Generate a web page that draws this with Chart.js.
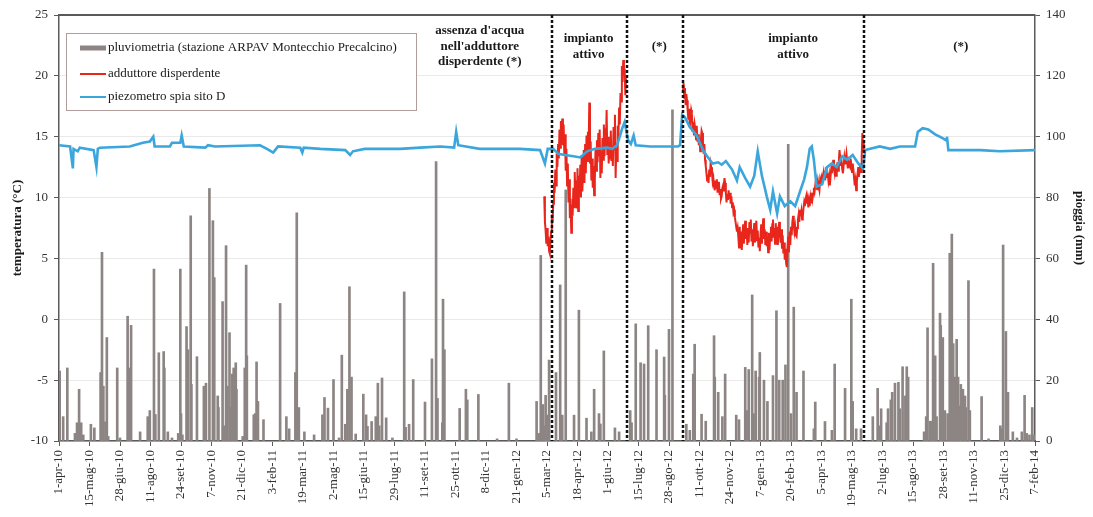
<!DOCTYPE html>
<html>
<head>
<meta charset="utf-8">
<script src="https://cdn.jsdelivr.net/npm/chart.js@4.4.1/dist/chart.umd.min.js"></script>
<style>
  html, body { margin: 0; padding: 0; background: #fff; }
  #wrap { width: 1093px; height: 517px; }
</style>
</head>
<body>
<div id="wrap"><canvas id="c" width="1093" height="517"></canvas></div>
<script>
// x axis: days counted from 1 April 2010, one label every 44 days
const tickLabels = ['1-apr-10','15-mag-10','28-giu-10','11-ago-10','24-set-10','7-nov-10','21-dic-10',
  '3-feb-11','19-mar-11','2-mag-11','15-giu-11','29-lug-11','11-set-11','25-ott-11','8-dic-11',
  '21-gen-12','5-mar-12','18-apr-12','1-giu-12','15-lug-12','28-ago-12','11-ott-12','24-nov-12',
  '7-gen-13','20-feb-13','5-apr-13','19-mag-13','2-lug-13','15-ago-13','28-set-13','11-nov-13',
  '25-dic-13','7-feb-14'];
const tickStep = 44;

// daily rain (mm), ARPAV Montecchio Precalcino
const rainDay = [1,6,12,23,26,29,32,35,46,51,60,62,64,67,69,71,84,88,99,101,104,117,128,131,137,139,144,151,152,157,163,172,175,176,178,184,186,190,191,199,209,212,217,222,224,229,230,236,238,241,243,246,248,250,252,255,256,265,268,270,271,281,283,285,287,295,319,328,332,341,343,346,354,368,380,383,388,396,404,408,413,416,419,422,428,439,443,445,451,457,460,462,466,472,481,498,500,505,511,528,538,544,546,553,554,556,578,587,589,605,632,649,660,689,692,695,698,700,702,704,707,717,723,726,731,743,750,761,768,772,779,781,786,802,808,824,826,832,839,844,850,862,873,874,880,885,905,910,915,917,927,933,945,946,951,957,961,977,981,990,992,995,1000,1002,1005,1010,1011,1017,1022,1030,1035,1039,1044,1048,1052,1056,1060,1064,1074,1089,1091,1105,1115,1119,1134,1143,1145,1150,1157,1174,1181,1183,1186,1194,1196,1200,1202,1206,1211,1213,1217,1221,1223,1225,1248,1251,1253,1257,1259,1261,1264,1266,1271,1272,1275,1278,1282,1285,1288,1290,1293,1295,1297,1300,1301,1304,1307,1308,1312,1314,1331,1341,1358,1360,1362,1366,1369,1376,1382,1389,1393,1396,1400,1404,1406];
const rainMm = [23,8,24,2.5,6,17,6,2,5.5,4.3,22.5,62,18,6.3,34,1.5,24,1,41,24,38,3,8,10,56.5,8.7,29,29.4,24,3,1,2.5,56.5,9,2,37.6,30,74,18.6,27.7,18,19,83,72.4,53.7,14.8,11,45.8,5,64.2,18,35.6,11,22,24,25.7,17,1.5,24,57.8,28,8.6,9,26,13,7,45.2,8,4,22.5,75,11,3,2,8.6,14.3,10.8,20.2,1,28.2,5.5,17,50.7,21,2.3,15.4,8.6,4.8,6.4,8,19,5,20.7,7.6,1,49,4.5,5.5,20.2,12.8,27,91.8,14,6,46.6,30,10.7,17,13.5,15.3,0.7,19,0.7,13,2.5,61,12,5,15,8.5,26.6,22.5,51.3,8.5,82.5,8.5,43,7.5,3,17,9,5.6,29.6,4.3,3,10,6,38.5,25.7,25.3,37.9,30,27.6,15,36.7,108.8,5.5,3.5,22,31.8,8.8,6.5,34.6,21,16,8,22,8.5,7,24.2,10,23.5,48,9,23,21,29.1,20,13,21.5,42.8,20,20,25,97.5,9,44,16,23,4,12.8,6.4,3.5,25.3,17.3,46.6,13,4,4,8,17.3,5,10.6,6,10.6,13.5,16,19,19.3,10.6,24.4,14.8,24.4,21,3,8,37.2,6.5,6.5,58.4,28,8,42,38,34,10,9,61.7,68,32,21,33.4,21,11.5,18.6,17,14.8,11,52.7,10,14.6,0.7,5,4,64.4,36,16,3,1,3,15,2.5,2,11,2];

// piezometro spia sito D (°C)
const piezoDay = [0,16,20,21,27,30,50,54,56,59,102,121,131,136,138,160,163,175,177,180,211,215,225,290,300,309,316,348,351,353,377,413,420,424,441,492,521,550,570,573,576,607,665,694,701,705,713,720,730,742,752,762,773,791,798,805,809,812,816,821,825,829,832,853,893,896,899,903,910,920,929,935,943,951,956,962,971,978,982,990,997,1003,1008,1014,1021,1026,1030,1036,1040,1047,1055,1062,1069,1075,1079,1083,1086,1089,1093,1101,1108,1115,1122,1130,1137,1145,1153,1160,1163,1184,1199,1213,1235,1239,1246,1254,1264,1274,1280,1281,1283,1329,1357,1408];
const piezoTemp = [14.3,14.2,12.4,14.0,13.8,14.1,13.9,12.5,14.0,14.1,14.2,14.5,14.6,15.0,14.2,14.2,14.5,14.5,15.1,14.2,14.1,14.3,14.2,14.3,14.0,13.7,14.2,14.1,13.7,14.1,14.0,13.9,13.5,13.8,14.0,14.0,14.1,14.2,14.1,15.4,14.3,14.0,14.0,13.9,12.8,14.0,14.0,13.6,13.5,13.4,13.3,13.8,14.0,14.1,14.0,14.3,15.0,15.6,16.2,14.7,14.4,15.1,14.3,14.2,14.2,14.3,16.8,16.6,15.8,15.1,13.9,13.4,12.8,12.9,12.7,13.0,12.3,11.4,12.5,11.6,10.9,11.8,13.8,11.8,10.1,9.0,10.5,8.7,10.1,9.3,9.7,9.3,10.5,11.5,12.5,14.0,14.2,13.1,10.9,11.1,12.5,12.8,12.5,13.4,13.1,13.5,12.8,12.4,13.9,14.2,14.0,14.2,14.2,15.4,15.7,15.6,15.2,14.9,14.7,15.0,13.9,13.9,13.8,13.9];

// adduttore disperdente (°C), daily values for the two running periods
const adduttore1Start = 700;
const adduttore1 = [10.1,8.0,7.3,6.2,7.5,6.0,6.8,5.6,5.4,6.5,7.2,8.6,7.9,9.5,11.2,10.4,12.3,11.0,13.6,12.5,
  14.4,13.2,15.6,14.1,16.3,15.0,16.5,14.3,16.0,13.5,15.2,12.2,14.0,11.0,12.8,9.6,11.5,8.3,9.9,7.1,
  9.4,8.5,10.8,9.2,12.1,10.0,11.4,9.1,12.4,8.9,11.8,10.3,12.7,10.0,13.5,10.5,12.3,13.9,11.2,14.4,
  12.0,15.1,13.0,15.4,13.6,17.8,12.8,14.6,11.4,13.2,10.8,12.6,10.2,11.5,13.9,12.2,14.7,12.9,15.3,13.4,
  15.6,11.6,13.8,12.0,14.9,13.1,16.0,13.4,15.7,14.2,17.2,13.5,15.0,12.8,14.6,13.2,15.5,13.0,14.2,12.6,
  15.8,14.0,16.8,11.6,14.1,13.0,15.9,14.8,17.4,16.0,18.6,17.9,20.8,19.5,21.3,20.1,20.6,18.4,19.8];
const adduttore2Start = 900;
const adduttore2 = [18.6,19.4,18.2,19.0,17.6,18.5,18.0,17.1,16.4,17.3,
  15.8,16.6,17.2,16.9,15.4,16.2,15.1,16.0,15.6,14.8,
  15.9,14.6,15.2,14.3,14.9,13.8,14.7,15.5,15.3,14.2,
  13.6,14.4,13.1,12.6,12.0,11.4,11.9,11.2,12.3,11.7,
  12.8,12.5,12.0,11.3,11.6,10.9,10.6,11.4,10.8,11.5,
  10.4,10.9,11.3,10.2,10.7,9.9,10.1,10.8,11.0,10.5,
  11.6,11.2,10.4,9.6,10.3,9.8,10.6,9.9,10.4,9.5,
  10.1,9.2,9.6,8.8,9.0,8.4,8.0,7.6,7.2,7.5,
  6.8,5.9,7.6,6.0,7.2,5.7,6.9,7.8,6.2,7.6,
  8.1,6.6,7.4,6.1,7.5,6.3,8.0,7.1,8.2,6.4,
  7.4,6.0,7.1,7.9,6.3,7.6,8.1,6.5,7.3,5.9,
  6.7,5.6,6.9,7.8,6.2,7.5,8.3,6.6,7.4,6.1,
  7.2,6.0,6.8,5.5,7.1,5.7,6.9,7.6,6.4,7.8,
  8.2,6.7,7.5,6.2,7.9,6.4,7.6,6.1,7.4,8.0,
  7.1,6.3,7.4,5.8,6.9,5.4,6.3,4.9,5.8,4.6,
  4.3,5.9,6.8,5.5,7.2,6.1,7.6,6.9,8.0,8.5,
  7.8,7.2,7.6,6.9,6.8,7.5,8.2,8.6,8.0,9.0,
  8.5,8.9,8.2,8.4,9.1,9.6,9.3,9.8,10.1,9.5,
  9.9,9.2,9.7,9.3,10.0,9.6,10.4,9.9,10.3,10.8,
  10.5,11.0,10.7,11.2,10.6,11.3,10.9,10.6,11.4,11.1,
  11.6,11.3,11.8,12.1,11.5,12.2,11.9,12.5,11.7,12.0,
  11.4,11.8,11.0,11.7,12.3,12.0,12.6,13.1,12.4,12.0,
  12.5,11.8,12.4,12.9,12.2,13.0,13.9,13.2,12.6,12.9,
  12.3,12.0,12.7,13.3,12.8,13.1,13.6,13.0,12.4,12.9,
  12.6,12.5,13.2,12.7,12.1,12.8,12.3,11.6,11.0,11.4,
  10.6,11.3,11.9,12.5,11.7,12.3,12.8,12.1,13.4,15.3,
  13.8,14.5];

// phase boundaries (days) and the notes written between them
const phaseBounds = [711, 819, 900, 1162];
const phaseNoteDays = [607, 764, 866, 1059, 1301];
const phaseNoteTexts = [
  ["assenza d'acqua", "nell'adduttore", "disperdente (*)"],
  ["impianto", "attivo"],
  ["(*)"],
  ["impianto", "attivo"],
  ["(*)"]
];

const SERIF = '"Liberation Serif", "Times New Roman", serif';
const RAIN_COLOR = '#8c8583';
const RED = '#e8261c';
const BLUE = '#3aa6dc';

const rainData = rainDay.map((d, i) => ({ x: d, y: rainMm[i] }));
const piezoData = piezoDay.map((d, i) => ({ x: d, y: piezoTemp[i] }));
const adduttoreData = adduttore1.map((v, i) => ({ x: adduttore1Start + i, y: v }))
  .concat([{ x: adduttore1Start + adduttore1.length, y: null }])
  .concat(adduttore2.map((v, i) => ({ x: adduttore2Start + i, y: v })));

const overlay = {
  id: 'overlay',
  afterDatasetsDraw(chart) {
    const { ctx, chartArea: a, scales: { x } } = chart;
    ctx.save();
    // frame top edge
    ctx.strokeStyle = '#5a5a5a';
    ctx.lineWidth = 2;
    ctx.beginPath(); ctx.moveTo(a.left, a.top); ctx.lineTo(a.right, a.top); ctx.stroke();

    // dashed separators between phases
    ctx.strokeStyle = '#111';
    ctx.lineWidth = 2.5;
    ctx.setLineDash([3, 2]);
    phaseBounds.forEach(d => {
      const px = Math.round(x.getPixelForValue(d));
      ctx.beginPath(); ctx.moveTo(px, a.top); ctx.lineTo(px, a.bottom); ctx.stroke();
    });
    ctx.setLineDash([]);

    // phase notes
    ctx.font = 'bold 13px ' + SERIF;
    ctx.fillStyle = '#1a1a1a';
    ctx.textAlign = 'center';
    ctx.textBaseline = 'middle';
    const mid = a.top + 31.5, lh = 15.5;
    phaseNoteDays.forEach((d, i) => {
      const lines = phaseNoteTexts[i];
      const px = x.getPixelForValue(d);
      const y0 = mid - (lines.length - 1) * lh / 2;
      lines.forEach((t, k) => ctx.fillText(t, px, y0 + k * lh));
    });

    // legend box
    const lx = a.left + 7, ly = a.top + 18, lw = 350, lhgt = 77;
    ctx.fillStyle = '#fff';
    ctx.fillRect(lx, ly, lw, lhgt);
    ctx.strokeStyle = '#b09c9c';
    ctx.lineWidth = 1;
    ctx.strokeRect(lx + 0.5, ly + 0.5, lw, lhgt);
    const rows = [ly + 15, ly + 41, ly + 64];
    const sx0 = lx + 14, sx1 = lx + 40;
    ctx.font = '13px ' + SERIF;
    ctx.textAlign = 'left';
    ctx.textBaseline = 'middle';
    chart.data.datasets.forEach(ds => {
      const r = rows[ds.legendRow];
      if (ds.type === 'bar') {
        ctx.fillStyle = RAIN_COLOR;
        ctx.fillRect(sx0, r - 2.5, sx1 - sx0, 5);
      } else {
        ctx.strokeStyle = ds.borderColor;
        ctx.lineWidth = 2;
        ctx.beginPath(); ctx.moveTo(sx0, r); ctx.lineTo(sx1, r); ctx.stroke();
      }
      ctx.fillStyle = '#1a1a1a';
      ctx.fillText(ds.label, sx1 + 2, r);
    });
    ctx.restore();
  }
};

new Chart(document.getElementById('c'), {
  type: 'bar',
  data: {
    datasets: [
      {
        type: 'line', label: 'piezometro spia sito D', data: piezoData,
        borderColor: BLUE, borderWidth: 2.6, pointRadius: 0, tension: 0,
        yAxisID: 'y', order: 0, legendRow: 2
      },
      {
        type: 'line', label: 'adduttore disperdente', data: adduttoreData,
        borderColor: RED, borderWidth: 2, pointRadius: 0, tension: 0, spanGaps: false,
        yAxisID: 'y', order: 1, legendRow: 1
      },
      {
        type: 'bar', label: 'pluviometria (stazione ARPAV Montecchio Precalcino)', data: rainData,
        backgroundColor: RAIN_COLOR, barThickness: 2, grouped: false,
        yAxisID: 'y2', order: 2, legendRow: 0
      }
    ]
  },
  options: {
    responsive: false,
    animation: false,
    devicePixelRatio: 1,
    layout: { padding: { top: 15, left: 0, right: 0, bottom: 0 } },
    plugins: { legend: { display: false }, tooltip: { enabled: false } },
    scales: {
      x: {
        type: 'linear', position: 'bottom', offset: false,
        min: 0, max: (tickLabels.length - 1) * tickStep,
        afterBuildTicks: s => { s.ticks = tickLabels.map((_, i) => ({ value: i * tickStep })); },
        afterFit: s => { s.height = 76; },
        ticks: {
          autoSkip: false, minRotation: 90, maxRotation: 90, padding: 4,
          font: { family: SERIF, size: 13 }, color: '#333',
          callback: (v, i) => tickLabels[i]
        },
        grid: { drawOnChartArea: false, offset: false, tickLength: 5, color: '#5a5a5a' },
        border: { color: '#5a5a5a', width: 1.5 }
      },
      y: {
        position: 'left', min: -10, max: 25,
        afterFit: s => { s.width = 59; },
        ticks: { stepSize: 5, padding: 6, font: { family: SERIF, size: 13 }, color: '#333' },
        grid: { color: '#e9e9e9', tickColor: '#5a5a5a', tickLength: 5 },
        border: { color: '#5a5a5a', width: 1.5 },
        title: { display: true, text: 'temperatura (°C)', font: { family: SERIF, size: 13, weight: 'bold' }, color: '#1a1a1a', padding: { top: 10, bottom: 0 } }
      },
      y2: {
        position: 'right', min: 0, max: 140,
        afterFit: s => { s.width = 58; },
        ticks: { stepSize: 20, padding: 6, font: { family: SERIF, size: 13 }, color: '#333' },
        grid: { drawOnChartArea: false, tickColor: '#5a5a5a', tickLength: 5 },
        border: { color: '#5a5a5a', width: 1.5 },
        title: { display: true, text: 'pioggia (mm)', font: { family: SERIF, size: 13, weight: 'bold' }, color: '#1a1a1a', padding: { top: 6, bottom: 0 } }
      }
    }
  },
  plugins: [overlay]
});
</script>
</body>
</html>
